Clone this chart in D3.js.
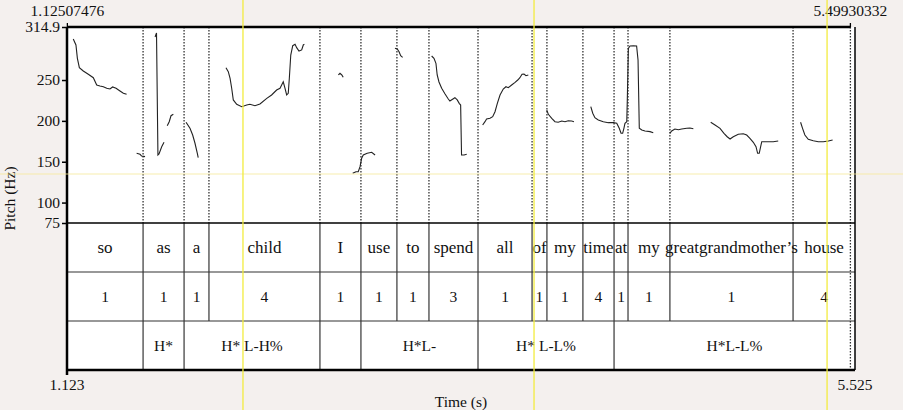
<!DOCTYPE html>
<html>
<head>
<meta charset="utf-8">
<script src="https://cdn.jsdelivr.net/npm/d3@7"></script>
<style>
body { margin: 0; background: #f4f0ee; }
svg text { font-family: "Liberation Serif", "DejaVu Serif", serif; font-size: 15.5px; fill: #111; }
svg text.word { font-size: 17px; }
</style>
</head>
<body>
<script>
// time window and pitch range
var timeRange = [1.123, 5.525];
var pitchEnd = [1.12507476, 5.49930332];
var hzRange = [75, 314.9];
var hzTicks = [75, 100, 150, 200, 250, 314.9];

// pitch contour pieces, [time (s), f0 (Hz)]
var pitchSo = [[1.158,300.2],[1.173,292.9],[1.181,276.6],[1.192,265.1],[1.214,261.0],[1.242,257.0],[1.270,252.8],[1.289,243.9],[1.307,242.7],[1.326,241.8],[1.345,239.9],[1.363,239.0],[1.378,241.5],[1.397,239.9],[1.419,236.6],[1.438,233.8],[1.456,232.5]];
var pitchSoEnd = [[1.512,160.3],[1.531,159.1],[1.540,157.0],[1.559,156.2]];
var pitchAs = [[1.615,302.7],[1.623,307.6],[1.631,158.2],[1.637,159.5],[1.652,168.4],[1.665,173.8]];
var pitchAs2 = [[1.683,194.1],[1.694,199.0],[1.704,206.3],[1.717,208.0]];
var pitchA = [[1.788,198.3],[1.810,190.9],[1.825,182.7],[1.838,172.6],[1.851,160.3],[1.856,154.9]];
var pitchChild = [[2.011,265.1],[2.024,260.2],[2.034,252.1],[2.043,239.9],[2.052,225.6],[2.071,220.3],[2.099,217.4],[2.127,219.4],[2.145,220.3],[2.173,218.6],[2.201,220.7],[2.239,227.6],[2.266,231.7],[2.294,237.8],[2.313,239.9],[2.331,247.9],[2.341,239.9],[2.350,231.7],[2.359,233.8],[2.365,252.1],[2.373,280.6],[2.384,292.0],[2.397,293.7],[2.406,289.6],[2.419,285.5],[2.434,286.8],[2.443,292.9],[2.449,293.7]];
var pitchI = [[2.639,256.2],[2.648,258.2],[2.658,256.2],[2.666,253.3]];
var pitchUse = [[2.719,135.8],[2.737,137.8],[2.750,137.8],[2.760,143.9],[2.769,154.2],[2.778,158.2],[2.800,160.3],[2.825,161.5],[2.844,158.2]];
var pitchTo = [[2.955,288.8],[2.968,288.0],[2.978,284.7],[2.987,279.8],[2.998,277.8]];
var pitchSpend = [[3.160,279.4],[3.173,276.6],[3.184,270.5],[3.191,256.2],[3.201,247.6],[3.216,239.9],[3.235,232.9],[3.253,226.8],[3.262,224.3],[3.279,226.8],[3.290,228.4],[3.303,225.6],[3.314,221.5],[3.322,219.4],[3.327,158.2],[3.341,158.2],[3.356,159.1]];
var pitchAll = [[3.445,195.0],[3.458,199.0],[3.467,202.3],[3.486,203.2],[3.501,205.1],[3.514,211.2],[3.527,221.5],[3.542,231.7],[3.560,239.0],[3.575,241.8],[3.588,240.6],[3.607,243.9],[3.626,247.2],[3.641,250.0],[3.653,252.8],[3.665,257.0],[3.676,257.4],[3.687,255.3],[3.700,256.2]];
var pitchMy = [[3.803,213.3],[3.812,208.0],[3.831,203.2],[3.849,199.0],[3.867,198.3],[3.887,199.8],[3.905,199.0],[3.923,200.2],[3.942,199.8],[3.955,199.0]];
var pitchTime = [[4.049,217.4],[4.060,209.3],[4.072,203.9],[4.091,201.1],[4.119,199.0],[4.147,197.8],[4.175,197.8],[4.194,197.0],[4.208,190.9],[4.218,184.8],[4.227,184.8],[4.234,190.9],[4.240,197.0],[4.250,199.0],[4.253,225.6],[4.259,288.8],[4.268,291.6],[4.287,292.0],[4.305,291.6],[4.313,274.5],[4.320,190.9],[4.334,188.8],[4.352,187.6],[4.380,186.8],[4.398,185.5]];
var pitchGreat = [[4.491,184.8],[4.501,187.6],[4.519,190.1],[4.538,189.2],[4.557,190.1],[4.585,190.9],[4.603,191.3],[4.622,190.4]];
var pitchMother = [[4.719,198.3],[4.743,195.0],[4.771,190.9],[4.793,184.8],[4.811,180.6],[4.827,177.8],[4.845,180.6],[4.873,183.6],[4.901,184.3],[4.920,182.7],[4.938,178.7],[4.957,173.8],[4.972,168.4],[4.981,160.3],[4.990,160.3],[4.998,168.4],[5.004,174.5],[5.017,174.5],[5.041,174.5],[5.068,174.5],[5.096,175.4]];
var pitchHouse = [[5.221,198.3],[5.232,190.9],[5.245,182.7],[5.264,177.4],[5.292,175.7],[5.320,174.5],[5.348,174.5],[5.376,175.4],[5.400,176.6]];

var pitchPieces = [pitchSo, pitchSoEnd, pitchAs, pitchAs2, pitchA, pitchChild, pitchI, pitchUse,
    pitchTo, pitchSpend, pitchAll, pitchMy, pitchTime, pitchGreat, pitchMother, pitchHouse];

// text grid tiers
var wordBounds = [1.123, 1.548, 1.777, 1.916, 2.536, 2.765, 2.966, 3.145, 3.419, 3.721, 3.804, 4.005, 4.179, 4.257, 4.491, 5.179, 5.525];
var wordLabels = ["so", "as", "a", "child", "I", "use", "to", "spend", "all", "of", "my", "time", "at", "my", "greatgrandmother\u2019s", "house"];
var breakLabels = ["1", "1", "1", "4", "1", "1", "1", "3", "1", "1", "1", "4", "1", "1", "1", "4"];
var toneBounds = [1.123, 1.548, 1.777, 2.536, 2.765, 3.419, 4.179, 5.525];
var toneLabels = ["", "H*", "H* L-H%", "", "H*L-", "H* L-L%", "H*L-L%"];

// editor cursors
var cursorTimes = [2.106, 3.732, 5.369];
var cursorHz = 135;

(function(){

    var width = 903, height = 410;
    var mLeft = 67, mRight = 855, mTop = 27, pitchBottom = 223, tierH = 49;
    var mBottom = pitchBottom + tierH * 3;

    var svg = d3.select("body").append("svg")
        .attr("width", width)
        .attr("height", height);

    var x = d3.scaleLinear().domain(timeRange).range([mLeft, mRight]);
    var y = d3.scaleLinear().domain(hzRange).range([pitchBottom, mTop]);

    svg.append("rect")
        .attr("x", mLeft).attr("y", mTop)
        .attr("width", mRight - mLeft).attr("height", mBottom - mTop)
        .attr("fill", "#fff");

    // dotted boundary lines through the pitch panel
    var dotted = wordBounds.slice(1, -1).concat([pitchEnd[1]]);
    svg.selectAll(".dot")
        .data(dotted)
        .enter()
        .append("line")
        .attr("class", "dot")
        .attr("x1", function(d){ return x(d); })
        .attr("x2", function(d){ return x(d); })
        .attr("y1", mTop)
        .attr("y2", function(d, i){ return i == dotted.length - 1 ? mBottom : pitchBottom; })
        .attr("stroke", "#333")
        .attr("stroke-width", 1.3)
        .attr("stroke-dasharray", "1.5,1.5");

    // pitch contour
    var line = d3.line()
        .x(function(d){ return x(d[0]); })
        .y(function(d){ return y(d[1]); });

    svg.selectAll(".pitch")
        .data(pitchPieces)
        .enter()
        .append("path")
        .attr("class", "pitch")
        .attr("d", line)
        .attr("fill", "none")
        .attr("stroke", "#222")
        .attr("stroke-width", 1.1);

    // tiers
    function drawTier(bounds, labels, row, cls){
        var y0 = pitchBottom + row * tierH;
        var g = svg.append("g");
        g.selectAll("line")
            .data(bounds.slice(1, -1))
            .enter()
            .append("line")
            .attr("x1", function(d){ return x(d); })
            .attr("x2", function(d){ return x(d); })
            .attr("y1", y0)
            .attr("y2", y0 + tierH)
            .attr("stroke", "#444")
            .attr("stroke-width", 1.3);
        g.selectAll("text")
            .data(labels)
            .enter()
            .append("text")
            .attr("class", cls)
            .attr("x", function(d, i){ return (x(bounds[i]) + x(bounds[i + 1])) / 2; })
            .attr("y", y0 + tierH / 2 + 5)
            .attr("text-anchor", "middle")
            .text(function(d){ return d; });
    }
    drawTier(wordBounds, wordLabels, 0, "word");
    drawTier(wordBounds, breakLabels, 1, "brk");
    drawTier(toneBounds, toneLabels, 2, "tone");

    [pitchBottom + tierH, pitchBottom + 2 * tierH].forEach(function(yy){
        svg.append("line")
            .attr("x1", mLeft).attr("x2", mRight)
            .attr("y1", yy).attr("y2", yy)
            .attr("stroke", "#333").attr("stroke-width", 1.2);
    });
    svg.append("line")
        .attr("x1", mLeft).attr("x2", mRight)
        .attr("y1", pitchBottom).attr("y2", pitchBottom)
        .attr("stroke", "#000").attr("stroke-width", 1.6);

    // frame
    svg.append("line").attr("x1", mRight).attr("x2", mRight).attr("y1", mTop).attr("y2", mBottom)
        .attr("stroke", "#000").attr("stroke-width", 1.5);
    svg.append("line").attr("x1", mLeft).attr("x2", x(pitchEnd[1])).attr("y1", mTop).attr("y2", mTop)
        .attr("stroke", "#000").attr("stroke-width", 2.5);
    svg.append("line").attr("x1", mLeft - 1).attr("x2", mRight).attr("y1", mBottom).attr("y2", mBottom)
        .attr("stroke", "#000").attr("stroke-width", 2.5);
    svg.append("line").attr("x1", mLeft).attr("x2", mLeft).attr("y1", mTop).attr("y2", mBottom + 5)
        .attr("stroke", "#000").attr("stroke-width", 2.5);

    // pitch axis
    var yAxis = d3.axisLeft(y)
        .tickValues(hzTicks)
        .tickSize(5)
        .tickPadding(2)
        .tickFormat(function(d){ return d; });
    var ag = svg.append("g")
        .attr("transform", "translate(" + mLeft + ",0)")
        .call(yAxis);
    ag.select(".domain").remove();
    ag.selectAll("line").attr("stroke", "#000").attr("stroke-width", 1.5);
    ag.selectAll("text").attr("font-size", null).attr("font-family", null).attr("fill", "#111");

    // top ticks + time labels
    pitchEnd.forEach(function(t){
        svg.append("line").attr("x1", x(t)).attr("x2", x(t)).attr("y1", mTop).attr("y2", mTop - 4)
            .attr("stroke", "#000").attr("stroke-width", 1.3);
        svg.append("text").attr("x", x(t)).attr("y", 16).attr("text-anchor", "middle").text(t.toFixed(8));
    });
    timeRange.forEach(function(t){
        svg.append("text").attr("x", x(t)).attr("y", mBottom + 20).attr("text-anchor", "middle").text(t.toFixed(3));
    });

    svg.append("text")
        .attr("x", (mLeft + mRight) / 2).attr("y", 407)
        .attr("text-anchor", "middle")
        .text("Time (s)");
    svg.append("text")
        .attr("transform", "translate(15," + ((mTop + mBottom) / 2) + ") rotate(-90)")
        .attr("text-anchor", "middle")
        .text("Pitch (Hz)");

    // cursor lines
    svg.append("line").attr("x1", 0).attr("x2", width).attr("y1", y(cursorHz)).attr("y2", y(cursorHz))
        .attr("stroke", "#f7ea9a").attr("stroke-width", 1.2).attr("opacity", 0.8);
    svg.selectAll(".cursor")
        .data(cursorTimes)
        .enter()
        .append("line")
        .attr("class", "cursor")
        .attr("x1", function(d){ return x(d); })
        .attr("x2", function(d){ return x(d); })
        .attr("y1", 0).attr("y2", height)
        .attr("stroke", "#f3ec3c").attr("stroke-width", 1.5).attr("opacity", 0.85);

})();
</script>
</body>
</html>
